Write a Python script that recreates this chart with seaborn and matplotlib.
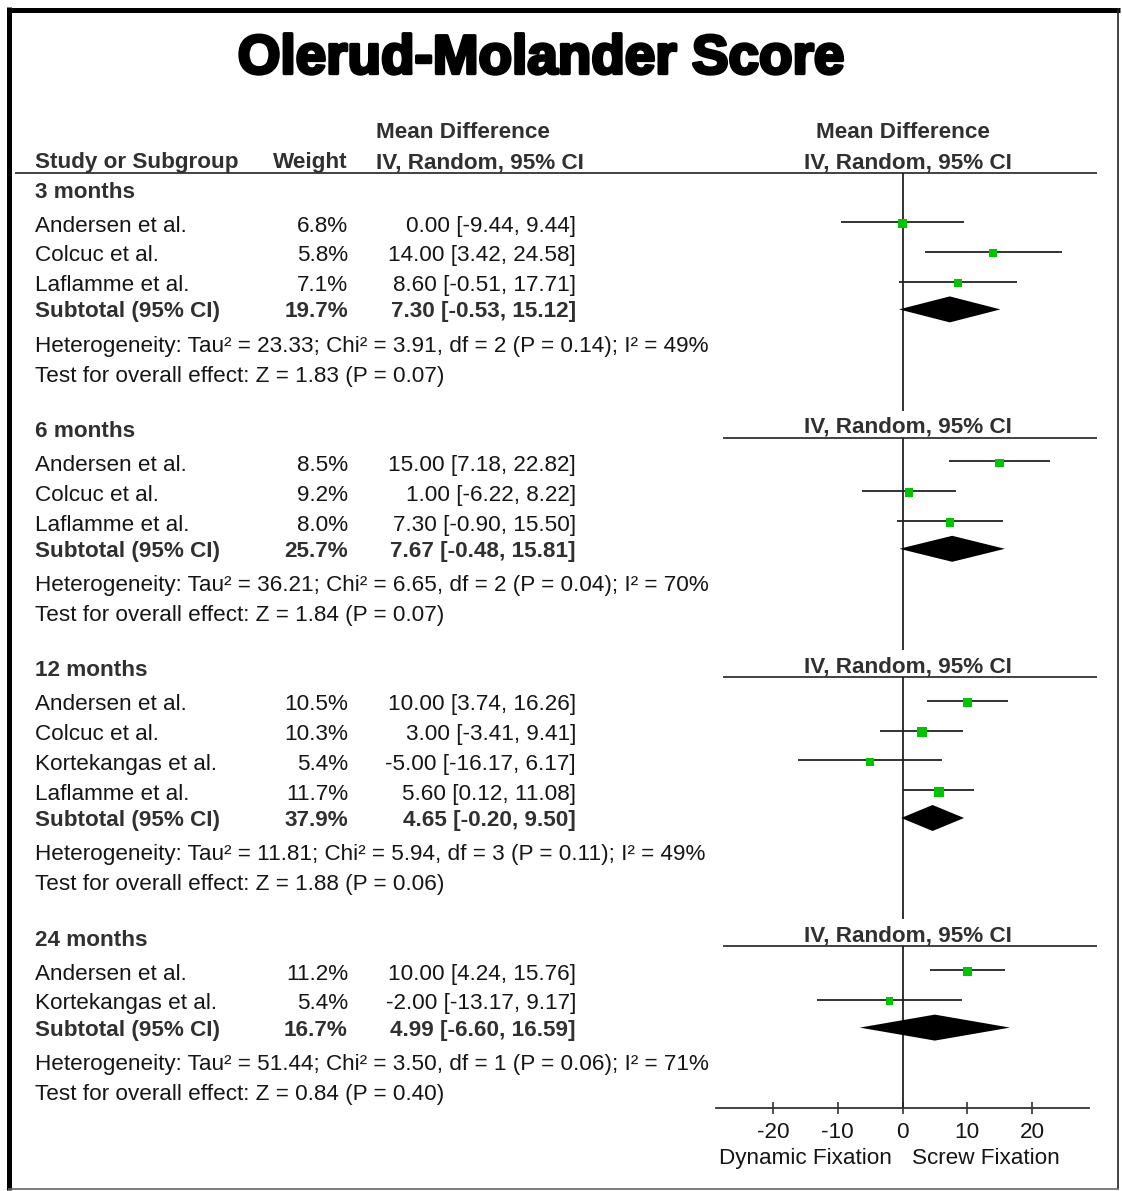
import numpy as np
import pandas as pd
import matplotlib
matplotlib.use("Agg")
import matplotlib.pyplot as plt
import matplotlib.patheffects as pe
import seaborn as sns

sns.set_theme(style="white")
plt.rcParams['font.family'] = ['Liberation Sans', 'DejaVu Sans']
plt.rcParams['axes.unicode_minus'] = False

# ---------------- data ----------------
title = "Olerud-Molander Score"
subgroups = ["3 months", "6 months", "12 months", "24 months"]
study_names = [
    ["Andersen et al.", "Colcuc et al.", "Laflamme et al."],
    ["Andersen et al.", "Colcuc et al.", "Laflamme et al."],
    ["Andersen et al.", "Colcuc et al.", "Kortekangas et al.", "Laflamme et al."],
    ["Andersen et al.", "Kortekangas et al."],
]
study_weight = [[6.8, 5.8, 7.1], [8.5, 9.2, 8.0], [10.5, 10.3, 5.4, 11.7], [11.2, 5.4]]
study_md = [[0.00, 14.00, 8.60], [15.00, 1.00, 7.30], [10.00, 3.00, -5.00, 5.60], [10.00, -2.00]]
study_lo = [[-9.44, 3.42, -0.51], [7.18, -6.22, -0.90], [3.74, -3.41, -16.17, 0.12], [4.24, -13.17]]
study_hi = [[9.44, 24.58, 17.71], [22.82, 8.22, 15.50], [16.26, 9.41, 6.17, 11.08], [15.76, 9.17]]
sub_weight = [19.7, 25.7, 37.9, 16.7]
sub_md = [7.30, 7.67, 4.65, 4.99]
sub_lo = [-0.53, -0.48, -0.20, -6.60]
sub_hi = [15.12, 15.81, 9.50, 16.59]
het_tau2 = [23.33, 36.21, 11.81, 51.44]
het_chi2 = [3.91, 6.65, 5.94, 3.50]
het_df = [2, 2, 3, 1]
het_p = [0.14, 0.04, 0.11, 0.06]
het_i2 = [49, 70, 49, 71]
z_val = [1.83, 1.84, 1.88, 0.84]
z_p = [0.07, 0.07, 0.06, 0.40]
x_ticks = [-20, -10, 0, 10, 20]
favours_left = "Dynamic Fixation"
favours_right = "Screw Fixation"

# ---------------- layout ----------------
W, H = 1122, 1191
FS = 16.2
BODY = '#151515'
HEAD = '#303030'
X_NAME, X_WEIGHT, X_CI = 35, 348, 576
XMIN, XMAX = -28.8, 28.8
PX_PER_UNIT = 6.475
ZERO_PX = 902.5
AXIS_Y = 1108
HEADER_LINE_Y = 173
CAP = FS * 100 / 72 * 0.716 / 2  # half cap height in px

fig = plt.figure(figsize=(W / 100, H / 100), dpi=100)
tax = fig.add_axes([0, 0, 1, 1])
tax.set_xlim(0, W)
tax.set_ylim(H, 0)
tax.axis('off')

left_px = ZERO_PX + XMIN * PX_PER_UNIT
fax = fig.add_axes([left_px / W, 0, (XMAX - XMIN) * PX_PER_UNIT / W, 1])
fax.patch.set_alpha(0)


def put(x, y, s, ha='left', bold=False, color=None, size=FS):
    tax.text(x, y + CAP * size / FS, s, ha=ha, va='baseline', fontsize=size,
             fontweight='bold' if bold else 'normal',
             color=color if color else (HEAD if bold else BODY))


# title
tax.text(541, 55 + 18.5, title, ha='center', va='baseline', fontsize=39.5,
         fontweight='bold', color='black',
         path_effects=[pe.withStroke(linewidth=2.4, foreground='black')])

# column headers
put(376, 130, "Mean Difference", bold=True)
put(X_NAME, 160, "Study or Subgroup", bold=True)
put(X_WEIGHT, 160, "Weight", ha='right', bold=True)
put(376, 160, "IV, Random, 95% CI", bold=True)
put(ZERO_PX, 130, "Mean Difference", ha='center', bold=True)
put(ZERO_PX + 5, 160, "IV, Random, 95% CI", ha='center', bold=True)
tax.hlines(HEADER_LINE_Y, 15, 1097, color='#333', lw=1.3)

HEAD_TO_FIRST, STUDY_STEP, STUDY_TO_SUB = 34.0, 29.8, 26.3
SUB_TO_HET, HET_TO_TEST, TEST_TO_NEXT = 34.3, 29.8, 55.4

rows = []
subs = []
zero_segments = []
y = 189.5
seg_top = HEADER_LINE_Y
for g, name in enumerate(subgroups):
    put(X_NAME, y, name, bold=True)
    if g > 0:
        line_y = y + 9
        put(ZERO_PX + 5, line_y - 13, "IV, Random, 95% CI", ha='center', bold=True)
        tax.hlines(line_y, 723, 1097, color='#333', lw=1.3)
        zero_segments.append((seg_top, y - 18))
        seg_top = line_y
    yy = y + HEAD_TO_FIRST
    for i, sname in enumerate(study_names[g]):
        put(X_NAME, yy, sname)
        put(X_WEIGHT, yy, f"{study_weight[g][i]:.1f}%", ha='right')
        put(X_CI, yy, f"{study_md[g][i]:.2f} [{study_lo[g][i]:.2f}, {study_hi[g][i]:.2f}]", ha='right')
        rows.append(dict(y=yy, md=study_md[g][i], lo=study_lo[g][i], hi=study_hi[g][i],
                         weight=study_weight[g][i]))
        last = yy
        yy += STUDY_STEP
    ys = last + STUDY_TO_SUB
    put(X_NAME, ys, "Subtotal (95% CI)", bold=True)
    put(X_WEIGHT, ys, f"{sub_weight[g]:.1f}%", ha='right', bold=True)
    put(X_CI, ys, f"{sub_md[g]:.2f} [{sub_lo[g]:.2f}, {sub_hi[g]:.2f}]", ha='right', bold=True)
    subs.append(dict(y=ys, md=sub_md[g], lo=sub_lo[g], hi=sub_hi[g]))
    yh = ys + SUB_TO_HET
    put(X_NAME, yh, f"Heterogeneity: Tau\u00b2 = {het_tau2[g]:.2f}; Chi\u00b2 = {het_chi2[g]:.2f}, "
                    f"df = {het_df[g]} (P = {het_p[g]:.2f}); I\u00b2 = {het_i2[g]}%")
    yt = yh + HET_TO_TEST
    put(X_NAME, yt, f"Test for overall effect: Z = {z_val[g]:.2f} (P = {z_p[g]:.2f})")
    y = yt + TEST_TO_NEXT
zero_segments.append((seg_top, AXIS_Y))

df = pd.DataFrame(rows)
sdf = pd.DataFrame(subs)

# zero line
for top, bot in zero_segments:
    fax.vlines(0, top, bot, color='#222', lw=1.3, zorder=1)

# CI lines
fax.hlines(df['y'] - 1.5, df['lo'], df['hi'], color='#222', lw=1.3, zorder=2)

# study squares (size grows with weight)
wmin, wmax = df['weight'].min(), df['weight'].max()
sns.scatterplot(data=df, x='md', y='y', size='weight', sizes=(30, 48),
                size_norm=(wmin, wmax), marker='s', color='#00c400', edgecolor='none',
                linewidth=0, legend=False, ax=fax, zorder=3)

# subtotal diamonds
for _, r in sdf.iterrows():
    fax.fill([r['lo'], r['md'], r['hi'], r['md']], [r['y'], r['y'] - 13, r['y'], r['y'] + 13],
             color='black', lw=0, zorder=4)

# axis
fax.set_xlim(XMIN, XMAX)
fax.set_ylim(H, 0)
for s in ['left', 'right', 'top']:
    fax.spines[s].set_visible(False)
fax.spines['bottom'].set_position(('data', AXIS_Y))
fax.spines['bottom'].set_bounds(XMIN, XMAX)
fax.spines['bottom'].set_color('#333')
fax.spines['bottom'].set_linewidth(1.3)
fax.set_xticks(x_ticks)
fax.set_xticklabels([str(t) for t in x_ticks])
fax.set_yticks([])
fax.tick_params(axis='x', direction='inout', length=8, width=1.2, color='#333',
                labelsize=FS, labelcolor=BODY, pad=6, bottom=True)
fax.set_xlabel('')
fax.set_ylabel('')
fax.grid(False)

# favours labels
put(805, 1156, favours_left, ha='center')
put(986, 1156, favours_right, ha='center')

# frame
tax.plot([9.5, 9.5], [7, 1190], color='black', lw=3.6, solid_capstyle='butt')
tax.plot([7, 1120], [9.5, 9.5], color='black', lw=3.6, solid_capstyle='butt')
tax.plot([1118, 1118], [8, 1189], color='#222', lw=1.2, solid_capstyle='butt')
tax.plot([8, 1119], [1188.5, 1188.5], color='#666', lw=1.2, solid_capstyle='butt')

fig.savefig("out.png", dpi=100)
